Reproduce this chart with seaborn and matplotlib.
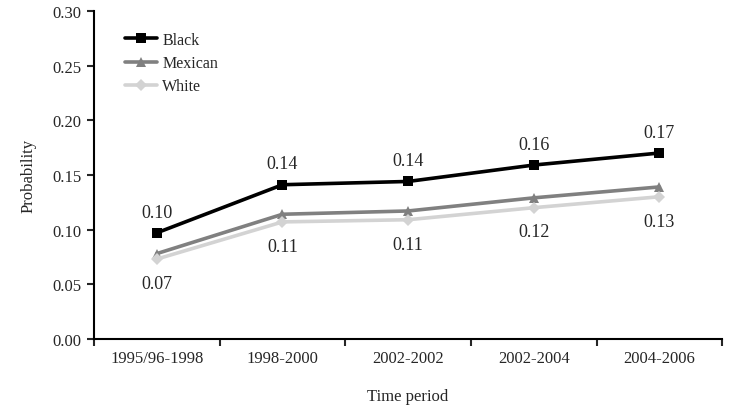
import numpy as np
import pandas as pd
import matplotlib
matplotlib.use("Agg")
import matplotlib.pyplot as plt
import seaborn as sns

sns.set_style("ticks")
plt.rcParams["font.family"] = ["Liberation Serif", "DejaVu Serif"]

periods = ["1995/96-1998", "1998-2000", "2002-2002", "2002-2004", "2004-2006"]
black = [0.097, 0.141, 0.144, 0.159, 0.170]
mexican = [0.078, 0.114, 0.117, 0.129, 0.139]
white = [0.073, 0.107, 0.109, 0.120, 0.130]
black_labels = ["0.10", "0.14", "0.14", "0.16", "0.17"]
white_labels = ["0.07", "0.11", "0.11", "0.12", "0.13"]

groups = ["Black", "Mexican", "White"]
df = pd.DataFrame({
    "x": list(range(len(periods))) * 3,
    "p": black + mexican + white,
    "group": np.repeat(groups, len(periods)),
})

fig = plt.figure(figsize=(7.4, 4.1), dpi=100)
ax = fig.add_axes([0.127, 0.171, 0.849, 0.80])

palette = {"Black": "#000000", "Mexican": "#808080", "White": "#d3d3d3"}
markers = {"Black": "s", "Mexican": "^", "White": "D"}
sns.lineplot(data=df, x="x", y="p", hue="group", style="group",
             palette=palette, markers=markers, dashes=False,
             linewidth=2.6, markersize=6.5, markeredgewidth=0, ax=ax)

# value labels
for i, (v, t) in enumerate(zip(black, black_labels)):
    ax.annotate(t, (i, v), xytext=(0, 15), textcoords="offset points",
                ha="center", va="center", fontsize=13)
for i, (v, t) in enumerate(zip(white, white_labels)):
    ax.annotate(t, (i, v), xytext=(0, -17.5), textcoords="offset points",
                ha="center", va="center", fontsize=13)

ax.set_xlim(-0.5, len(periods) - 0.5)
ax.set_ylim(0, 0.30)
ax.set_yticks(np.arange(0, 0.301, 0.05))
ax.set_yticklabels([f"{t:.2f}" for t in np.arange(0, 0.301, 0.05)], fontsize=12)
ax.set_xticks(np.arange(-0.5, len(periods), 1.0))
ax.set_xticklabels([])
ax.set_xticks(range(len(periods)), minor=True)
ax.set_xticklabels(periods, minor=True, fontsize=12)
ax.tick_params(axis="x", which="minor", length=0, pad=8)
ax.tick_params(axis="x", which="major", length=5, width=1.5, direction="out")
ax.tick_params(axis="y", length=5, width=1.5, direction="out", pad=4)

for s in ["top", "right"]:
    ax.spines[s].set_visible(False)
for s in ["left", "bottom"]:
    ax.spines[s].set_linewidth(1.5)
    ax.spines[s].set_color("black")

ax.set_xlabel("Time period", fontsize=12, labelpad=16)
ax.set_ylabel("Probability", fontsize=12, labelpad=11)

leg = ax.legend(loc="upper left", bbox_to_anchor=(0.04, 0.955), frameon=False,
                fontsize=11.5, handlelength=2.0, handletextpad=0.3,
                labelspacing=0.45, borderaxespad=0)
for line in leg.get_lines():
    line.set_linewidth(2.6)

fig.savefig("out.png", dpi=100)
